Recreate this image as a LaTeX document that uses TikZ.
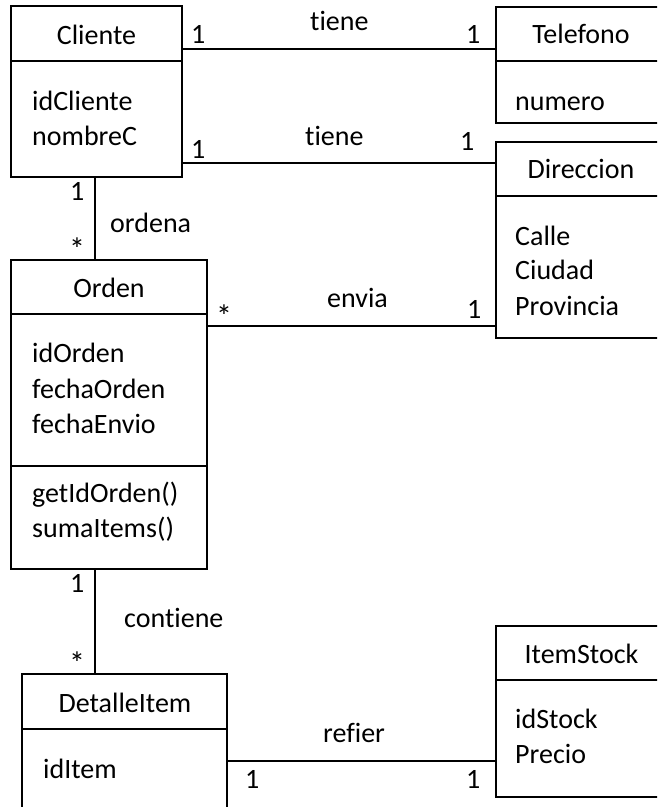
\documentclass[tikz,border=0pt]{standalone}
\usepackage{fontspec}
\setmainfont{Carlito}[Ligatures={NoCommon,NoRare,NoDiscretionary}]
\begin{document}
\begin{tikzpicture}[x=1pt,y=-1pt,
  box/.style={draw, line width=1.6pt, anchor=north west, inner sep=0pt, outer sep=0pt},
  conn/.style={line width=1.6pt},
  ttl/.style={anchor=base, inner sep=0pt},
  att/.style={anchor=base west, inner sep=0pt},
  mult/.style={anchor=base west, inner sep=0pt},
  font=\fontsize{28}{35}\selectfont]
\useasboundingbox (0,0) rectangle (657,807);
\clip (0,0) rectangle (657,807);
% class boxes
\node[box, minimum width=171pt, minimum height=171pt] (cliente) at (11,6) {};
\node[box, minimum width=170pt, minimum height=116pt] (telefono) at (496,7) {};
\node[box, minimum width=170pt, minimum height=196pt] (direccion) at (496,142) {};
\node[box, minimum width=196pt, minimum height=309pt] (orden) at (11,260) {};
\node[box, minimum width=205pt, minimum height=150pt] (detalle) at (22,674) {};
\node[box, minimum width=170pt, minimum height=171pt] (itemstock) at (496,626) {};
% dividers
\draw[conn] (cliente.west |- 0,61) -- (cliente.east |- 0,61);
\draw[conn] (telefono.west |- 0,61) -- (telefono.east |- 0,61);
\draw[conn] (direccion.west |- 0,196) -- (direccion.east |- 0,196);
\draw[conn] (orden.west |- 0,314) -- (orden.east |- 0,314);
\draw[conn] (orden.west |- 0,466) -- (orden.east |- 0,466);
\draw[conn] (detalle.west |- 0,729) -- (detalle.east |- 0,729);
\draw[conn] (itemstock.west |- 0,680) -- (itemstock.east |- 0,680);
% titles
\node[ttl] (tCliente) at (96.5,44) {Cliente};
\node[ttl] (tTelefono) at (581,43) {Telefono};
\node[ttl] (tDireccion) at (581,178) {Direccion};
\node[ttl] (tOrden) at (109,297) {Orden};
\node[ttl] (tDetalle) at (125,712) {DetalleItem};
\node[ttl] (tItemStock) at (581.5,663) {ItemStock};
% attributes
\node[att] (aIdCliente) at (32,110) {idCliente};
\node[att] (aNombreC) at (32,145) {nombreC};
\node[att] (aNumero) at (515,110) {numero};
\node[att] (aCalle) at (515,245) {Calle};
\node[att] (aCiudad) at (515,279) {Ciudad};
\node[att] (aProvincia) at (515,315) {Provincia};
\node[att] (aIdOrden) at (32,362) {idOrden};
\node[att] (aFechaOrden) at (32,398) {fechaOrden};
\node[att] (aFechaEnvio) at (32,433) {fechaEnvio};
\node[att] (mGetId) at (32,502) {getIdOrden()};
\node[att] (mSuma) at (32,537) {sumaItems()};
\node[att] (aIdItem) at (43,778) {idItem};
\node[att] (aIdStock) at (515,728) {idStock};
\node[att] (aPrecio) at (515,763) {Precio};
% connectors
\draw[conn] (cliente.east |- 0,49) -- (telefono.west |- 0,49);
\draw[conn] (cliente.east |- 0,163) -- (direccion.west |- 0,163);
\draw[conn] (95,0 |- cliente.south) -- (95,0 |- orden.north);
\draw[conn] (orden.east |- 0,326) -- (direccion.west |- 0,326);
\draw[conn] (95,0 |- orden.south) -- (95,0 |- detalle.north);
\draw[conn] (detalle.east |- 0,761) -- (itemstock.west |- 0,761);
% association names
\node[att] (nTiene1) at (310,30) {tiene};
\node[att] (nTiene2) at (305,145) {tiene};
\node[att] (nOrdena) at (110,232) {ordena};
\node[att] (nEnvia) at (327,307) {envia};
\node[att] (nContiene) at (124,627) {contiene};
\node[att] (nRefier) at (323,742) {refier};
% multiplicities
\node[mult] (m1) at (191,43) {1};
\node[mult] (m2) at (466,43) {1};
\node[mult] (m3) at (191,158) {1};
\node[mult] (m4) at (460,150) {1};
\node[mult] (m5) at (70,200) {1};
\node[mult] (m6) at (69,260) {\fontsize{32}{35}\selectfont *};
\node[mult] (m7) at (216,327) {\fontsize{32}{35}\selectfont *};
\node[mult] (m8) at (467,318) {1};
\node[mult] (m9) at (70,592) {1};
\node[mult] (m10) at (69,674) {\fontsize{32}{35}\selectfont *};
\node[mult] (m11) at (245,788) {1};
\node[mult] (m12) at (466,788) {1};
\end{tikzpicture}
\end{document}
